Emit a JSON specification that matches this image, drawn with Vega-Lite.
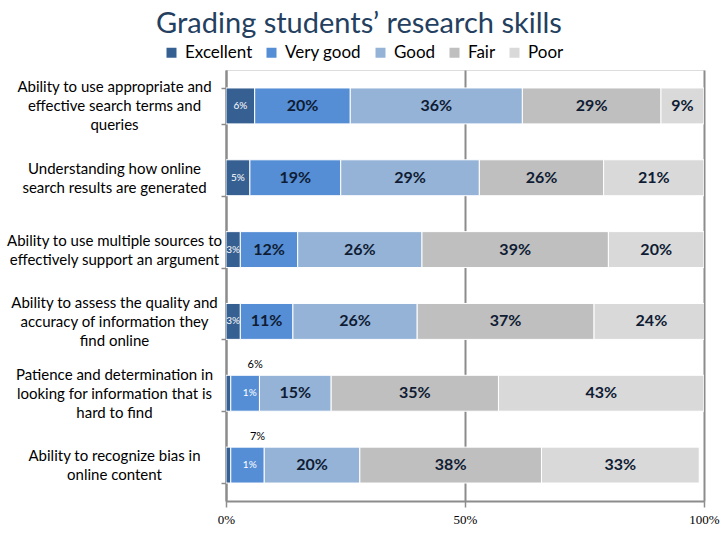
{
  "$schema": "https://vega.github.io/schema/vega-lite/v6.json",
  "width": 478,
  "height": 431,
  "autosize": {"type": "none"},
  "padding": {"left": 226, "top": 70, "right": 16, "bottom": 39},
  "background": "white",
  "title": {
    "text": "Grading students’ research skills",
    "fontSize": 29,
    "font": "Lato",
    "fontWeight": "normal",
    "color": "#243f60",
    "anchor": "middle",
    "frame": "group",
    "baseline": "alphabetic",
    "offset": -18,
    "dx": -106
  },
  "data": {
    "values": [
      {"skill": "Ability to use appropriate and\neffective search terms and\nqueries", "level": "Excellent", "value": 6},
      {"skill": "Ability to use appropriate and\neffective search terms and\nqueries", "level": "Very good", "value": 20},
      {"skill": "Ability to use appropriate and\neffective search terms and\nqueries", "level": "Good", "value": 36},
      {"skill": "Ability to use appropriate and\neffective search terms and\nqueries", "level": "Fair", "value": 29},
      {"skill": "Ability to use appropriate and\neffective search terms and\nqueries", "level": "Poor", "value": 9},
      {"skill": "Understanding how online\nsearch results are generated", "level": "Excellent", "value": 5},
      {"skill": "Understanding how online\nsearch results are generated", "level": "Very good", "value": 19},
      {"skill": "Understanding how online\nsearch results are generated", "level": "Good", "value": 29},
      {"skill": "Understanding how online\nsearch results are generated", "level": "Fair", "value": 26},
      {"skill": "Understanding how online\nsearch results are generated", "level": "Poor", "value": 21},
      {"skill": "Ability to use multiple sources to\neffectively support an argument", "level": "Excellent", "value": 3},
      {"skill": "Ability to use multiple sources to\neffectively support an argument", "level": "Very good", "value": 12},
      {"skill": "Ability to use multiple sources to\neffectively support an argument", "level": "Good", "value": 26},
      {"skill": "Ability to use multiple sources to\neffectively support an argument", "level": "Fair", "value": 39},
      {"skill": "Ability to use multiple sources to\neffectively support an argument", "level": "Poor", "value": 20},
      {"skill": "Ability to assess the quality and\naccuracy of information they\nfind online", "level": "Excellent", "value": 3},
      {"skill": "Ability to assess the quality and\naccuracy of information they\nfind online", "level": "Very good", "value": 11},
      {"skill": "Ability to assess the quality and\naccuracy of information they\nfind online", "level": "Good", "value": 26},
      {"skill": "Ability to assess the quality and\naccuracy of information they\nfind online", "level": "Fair", "value": 37},
      {"skill": "Ability to assess the quality and\naccuracy of information they\nfind online", "level": "Poor", "value": 24},
      {"skill": "Patience and determination in\nlooking for information that is\nhard to find", "level": "Excellent", "value": 1},
      {"skill": "Patience and determination in\nlooking for information that is\nhard to find", "level": "Very good", "value": 6},
      {"skill": "Patience and determination in\nlooking for information that is\nhard to find", "level": "Good", "value": 15},
      {"skill": "Patience and determination in\nlooking for information that is\nhard to find", "level": "Fair", "value": 35},
      {"skill": "Patience and determination in\nlooking for information that is\nhard to find", "level": "Poor", "value": 43},
      {"skill": "Ability to recognize bias in\nonline content", "level": "Excellent", "value": 1},
      {"skill": "Ability to recognize bias in\nonline content", "level": "Very good", "value": 7},
      {"skill": "Ability to recognize bias in\nonline content", "level": "Good", "value": 20},
      {"skill": "Ability to recognize bias in\nonline content", "level": "Fair", "value": 38},
      {"skill": "Ability to recognize bias in\nonline content", "level": "Poor", "value": 33}
    ]
  },
  "transform": [
    {"calculate": "indexof(['Excellent','Very good','Good','Fair','Poor'], datum.level)", "as": "rank"},
    {"stack": "value", "groupby": ["skill"], "sort": [{"field": "rank", "order": "ascending"}], "as": ["x0", "x1"]},
    {"calculate": "(datum.x0 + datum.x1) / 2", "as": "mid"},
    {"calculate": "datum.value + '%'", "as": "lbl"}
  ],
  "encoding": {
    "y": {
      "field": "skill",
      "type": "nominal",
      "sort": null,
      "scale": {"paddingInner": 0.5, "paddingOuter": 0.25},
      "axis": {
        "title": null,
        "labelExpr": "split(datum.label, '\\n')",
        "labelAlign": "center",
        "labelBaseline": "middle",
        "labelPadding": 107,
        "labelOffset": {"condition": {"test": "length(split(datum.value, '\\n')) == 3", "value": -19}, "value": -9.5},
        "labelFont": "Lato",
        "labelFontSize": 15,
        "labelColor": "#000000",
        "labelLineHeight": 19,
        "labelLimit": 0,
        "tickBand": "extent",
        "tickSize": 5,
        "tickColor": "#8c8c8c",
        "tickWidth": 1.5,
        "domainColor": "#8c8c8c",
        "domainWidth": 2
      }
    }
  },
  "layer": [
    {
      "mark": {"type": "bar", "stroke": "white", "strokeWidth": 1, "clip": true},
      "encoding": {
        "x": {
          "field": "x0",
          "type": "quantitative",
          "scale": {"domain": [0, 100], "nice": false},
          "axis": {
            "title": null,
            "values": [0, 50, 100],
            "labelExpr": "datum.value + '%'",
            "labelFlush": false,
            "labelFont": "Liberation Serif",
            "labelFontSize": 13,
            "labelColor": "#000000",
            "labelPadding": 6,
            "grid": true,
            "gridColor": "#8c8c8c",
            "gridWidth": 2,
            "domainColor": "#8c8c8c",
            "domainWidth": 2,
            "tickColor": "#8c8c8c",
            "tickSize": 6,
            "tickWidth": 1.5
          }
        },
        "x2": {"field": "x1"},
        "color": {
          "field": "level",
          "type": "nominal",
          "scale": {
            "domain": ["Excellent", "Very good", "Good", "Fair", "Poor"],
            "range": ["#376092", "#558ed5", "#95b3d7", "#bfbfbf", "#d9d9d9"]
          },
          "legend": {
            "title": null,
            "orient": "none",
            "direction": "horizontal",
            "legendX": -63,
            "legendY": -26,
            "symbolType": "square",
            "symbolSize": 100,
            "symbolStrokeWidth": 0,
            "labelFont": "Lato",
            "labelFontSize": 17,
            "labelColor": "#000000",
            "labelOffset": 5,
            "columnPadding": 10
          }
        }
      }
    },
    {
      "transform": [{"filter": "datum.value >= 8 && datum.level != 'Excellent'"}],
      "mark": {"type": "text", "font": "Lato", "fontSize": 16, "fontWeight": "bold", "color": "#0f1c33"},
      "encoding": {
        "x": {"field": "mid", "type": "quantitative"},
        "text": {"field": "lbl"}
      }
    },
    {
      "transform": [{"filter": "datum.level == 'Excellent' && datum.value >= 2"}],
      "mark": {"type": "text", "font": "Lato", "fontSize": 10, "color": "#ffffff"},
      "encoding": {
        "x": {"field": "mid", "type": "quantitative"},
        "text": {"field": "lbl"}
      }
    },
    {
      "transform": [{"filter": "datum.level == 'Excellent' && datum.value < 2"}],
      "mark": {"type": "text", "font": "Lato", "fontSize": 10, "color": "#ffffff", "dx": 19},
      "encoding": {
        "x": {"field": "x1", "type": "quantitative"},
        "text": {"field": "lbl"}
      }
    },
    {
      "transform": [{"filter": "datum.level == 'Very good' && datum.value < 8"}],
      "mark": {"type": "text", "font": "Lato", "fontSize": 11, "color": "#000000", "dx": 10, "dy": -28},
      "encoding": {
        "x": {"field": "mid", "type": "quantitative"},
        "text": {"field": "lbl"}
      }
    }
  ]
}
